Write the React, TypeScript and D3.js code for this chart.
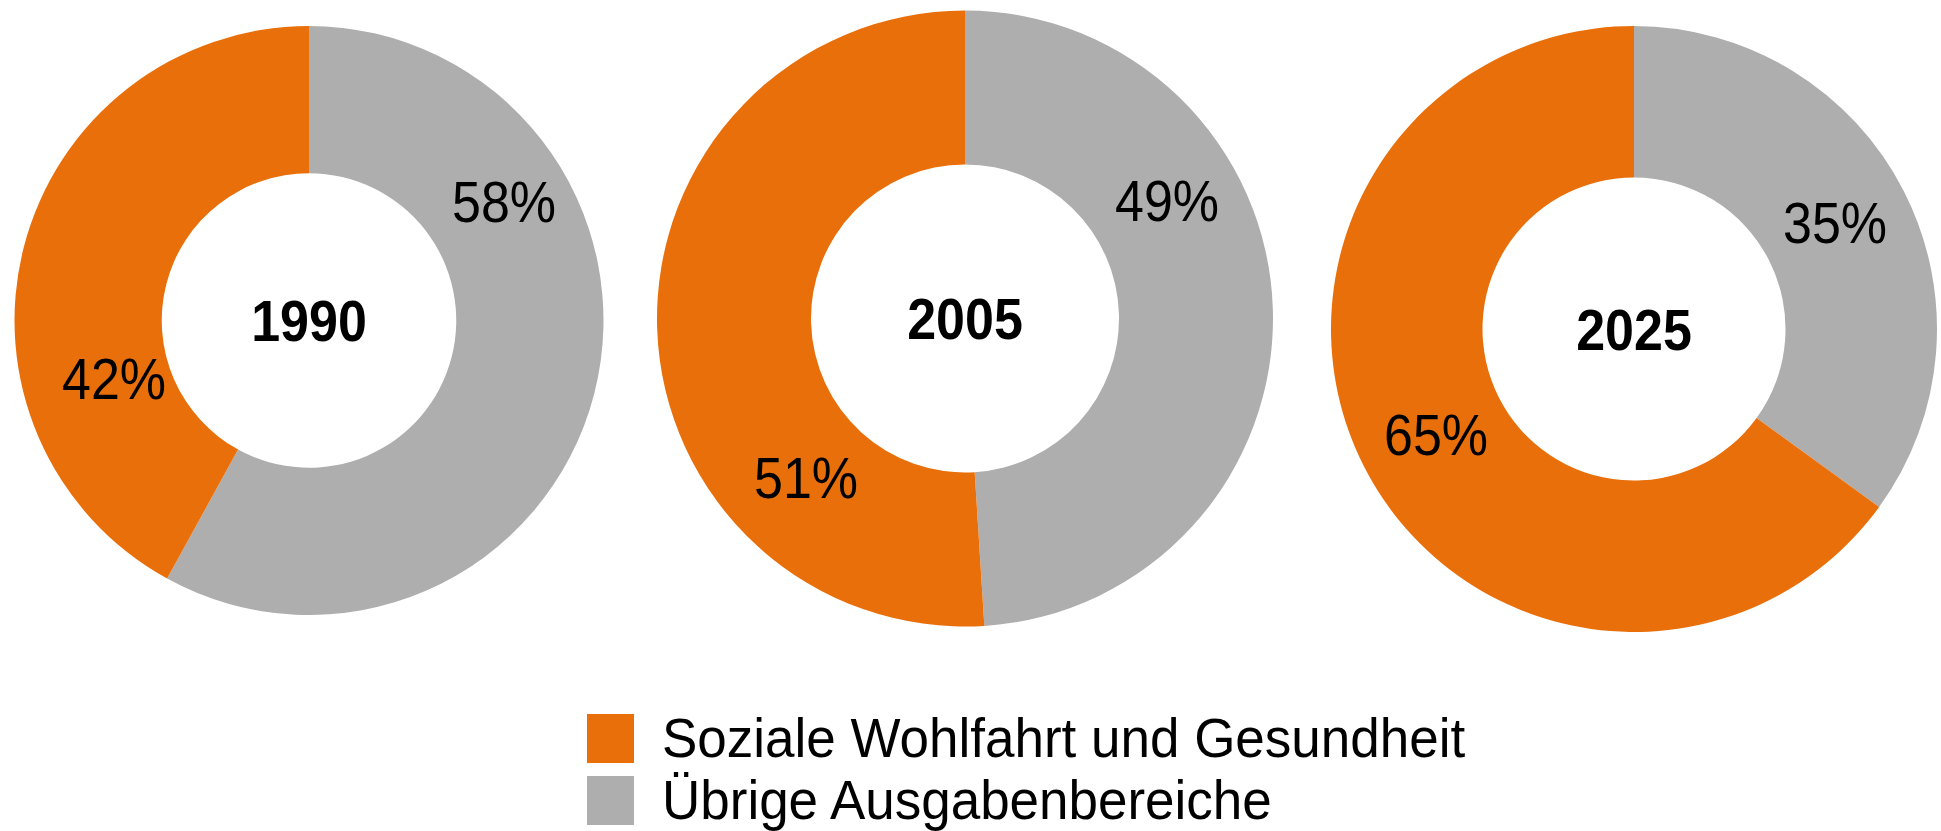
import React from "react";
import * as d3 from "d3";

// ---- data ----
const years = ["1990", "2005", "2025"];
const sozialeWohlfahrt = [42, 51, 65];
const uebrige = [58, 49, 35];
const seriesNames = ["Soziale Wohlfahrt und Gesundheit", "Übrige Ausgabenbereiche"];

// ---- layout (positions, sizes, styles) ----
const W = 1941;
const H = 831;
const COLORS = { orange: "#E96F0A", gray: "#AEAEAE" };
const donutLayout = [
  { cx: 309, cy: 320.5, r: 294.5 },
  { cx: 965, cy: 318.5, r: 308 },
  { cx: 1634, cy: 329, r: 303 },
];
// label offsets relative to each donut centre: [gray label, orange label]
const labelOffsets = [
  [ [195, -119], [-195, 58] ],
  [ [202, -118], [-159, 159] ],
  [ [201, -107], [-198, 105] ],
];
const FONT = "'Liberation Sans', Arial, Helvetica, sans-serif";
const TEXT_STRETCH = 1.1;

export default function App() {
  const pie = d3
    .pie<{ key: string; value: number }>()
    .sort(null)
    .value((d) => d.value)
    .startAngle(0)
    .endAngle(2 * Math.PI);

  return (
    <svg
      width={W}
      height={H}
      style={{ position: "absolute", left: 0, top: 0, background: "#fff" }}
      fontFamily={FONT}
    >
      {years.map((year, i) => {
        const L = donutLayout[i];
        const arc = d3.arc<d3.PieArcDatum<{ key: string; value: number }>>()
          .innerRadius(L.r * 0.5)
          .outerRadius(L.r);
        const arcs = pie([
          { key: "gray", value: uebrige[i] },
          { key: "orange", value: sozialeWohlfahrt[i] },
        ]);
        return (
          <g key={year} transform={`translate(${L.cx},${L.cy})`}>
            {arcs.map((a) => (
              <path
                key={a.data.key}
                d={arc(a) || ""}
                fill={a.data.key === "gray" ? COLORS.gray : COLORS.orange}
              />
            ))}
            {arcs.map((a, j) => (
              <g
                key={"l" + a.data.key}
                transform={`translate(${labelOffsets[i][j][0]},${labelOffsets[i][j][1]}) scale(1,${TEXT_STRETCH})`}
              >
                <text textAnchor="middle" dy="0.36em" fontSize={52} fill="#000">
                  {`${a.data.value}%`}
                </text>
              </g>
            ))}
            <g transform={`scale(1,${TEXT_STRETCH})`}>
              <text
                textAnchor="middle"
                dy="0.36em"
                fontSize={52}
                fontWeight="bold"
                fill="#000"
              >
                {year}
              </text>
            </g>
          </g>
        );
      })}
      <g>
        {seriesNames.map((name, k) => (
          <g key={name} transform={`translate(587,${714 + k * 62})`}>
            <rect
              width={47}
              height={49}
              fill={k === 0 ? COLORS.orange : COLORS.gray}
            />
            <g transform={`translate(75,43) scale(1,1.05)`}>
              <text fontSize={53} fill="#000">
                {name}
              </text>
            </g>
          </g>
        ))}
      </g>
    </svg>
  );
}
